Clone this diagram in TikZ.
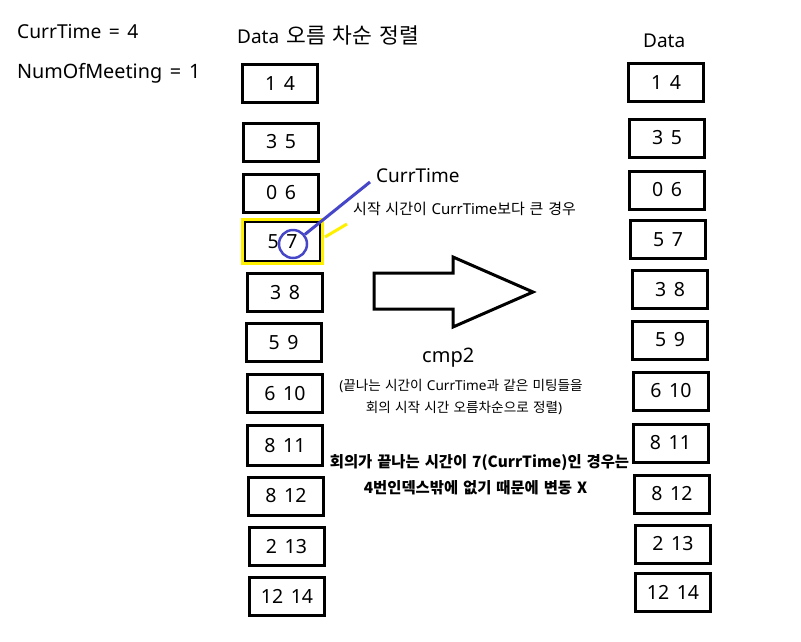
\documentclass[tikz,border=0pt]{standalone}
\usepackage{fontspec}
\setmainfont[WordSpace=1.5]{Noto Sans}
\newfontfamily\kr[WordSpace=1.4]{Noto Sans CJK KR}
\usetikzlibrary{fit}
\definecolor{circblue}{RGB}{70,70,200}
\definecolor{hiyellow}{RGB}{255,240,0}
\tikzset{
  databox/.style={draw=black, line width=3pt, minimum width=75pt, minimum height=38pt, inner sep=0pt, font=\fontsize{19.5}{22}\selectfont},
  plain/.style={inner sep=0pt, anchor=base west},
  boldline/.style={inner sep=0pt, anchor=base, font=\kr\bfseries\fontsize{15.4}{17}\selectfont},
}
\begin{document}
\begin{tikzpicture}[x=1pt,y=-1pt]
\useasboundingbox (0,0) rectangle (801,641);
% top-left texts
\node[plain, font=\fontsize{19.2}{20}\selectfont] (ct) at (17,38) {CurrTime = 4};
\node[plain, font=\fontsize{19.8}{20}\selectfont] (nm) at (17,78) {NumOfMeeting = 1};
\node[plain, font=\fontsize{19}{21}\selectfont] (ltitle) at (237,43) {Data {\kr\fontsize{21.5}{22}\selectfont 오름 차순 정렬}};
\node[plain, font=\fontsize{19}{20}\selectfont] (rtitle) at (643,47) {Data};
% left column
\node[databox] (l1) at (280,83.5) {1 4};
\node[databox] (l2) at (281,142) {3 5};
\node[databox] (l3) at (281,193) {0 6};
\node[databox, minimum width=76pt, minimum height=40pt] (l4) at (282.5,241.5) {5 7};
\node[databox] (l5) at (285,292.5) {3 8};
\node[databox] (l6) at (283.5,342.5) {5 9};
\node[databox] (l7) at (285,393.5) {6 10};
\node[databox, minimum height=40pt] (l8) at (285,445.5) {8 11};
\node[databox] (l9) at (286,496) {8 12};
\node[databox] (l10) at (286.5,546.5) {2 13};
\node[databox] (l11) at (287,596) {12 14};
% right column
\node[databox] (r1) at (666,82.5) {1 4};
\node[databox] (r2) at (667,138) {3 5};
\node[databox] (r3) at (667,190) {0 6};
\node[databox] (r4) at (668,239.5) {5 7};
\node[databox] (r5) at (670,289.5) {3 8};
\node[databox] (r6) at (670,340) {5 9};
\node[databox] (r7) at (671,391) {6 10};
\node[databox] (r8) at (670.5,443) {8 11};
\node[databox] (r9) at (672,494) {8 12};
\node[databox] (r10) at (673,544) {2 13};
\node[databox] (r11) at (673,592.5) {12 14};
% highlight
\node[draw=hiyellow, line width=3pt, fit=(l4), inner sep=0.5pt] (yb) {};
\coordinate (ya) at (325,237);
\coordinate (yend) at (347,224);
\draw[hiyellow, line width=3pt] (ya) -- (yend);
\node[circle, draw=circblue, line width=2.5pt, minimum size=28pt, inner sep=0pt] (c) at (293,244) {};
\coordinate (ce) at (370,182);
\draw[circblue, line width=3pt] (c) -- (ce);
\node[plain, font=\fontsize{19}{20}\selectfont] (curl) at (376,182) {CurrTime};
\node[plain, font=\fontsize{15}{17}\selectfont] (cond) at (353,214) {{\kr 시작 시간이 }CurrTime{\kr 보다 큰 경우}};
% big arrow
\draw[line width=3pt, line join=miter] (374,273) -- (453,273) -- (453,257) -- (533,292) -- (453,327) -- (453,309) -- (374,309) -- cycle;
% middle texts
\node[plain, font=\fontsize{20}{23}\selectfont] (cmp) at (422,362) {cmp2};
\node[inner sep=0pt, anchor=base, font=\fontsize{13.6}{16}\selectfont] (n1) at (461,390) {({\kr 끝나는 시간이 }CurrTime{\kr 과 같은 미팅들을}};
\node[inner sep=0pt, anchor=base, font=\fontsize{13.6}{16}\selectfont] (n2) at (464,412) {{\kr 회의 시작 시간 오름차순으로 정렬})};
\node[boldline] (b1) at (479.5,467) {회의가 끝나는 시간이 7(CurrTime)인 경우는};
\node[boldline] (b2) at (475.5,493) {4번인덱스밖에 없기 때문에 변동 X};
\end{tikzpicture}
\end{document}
